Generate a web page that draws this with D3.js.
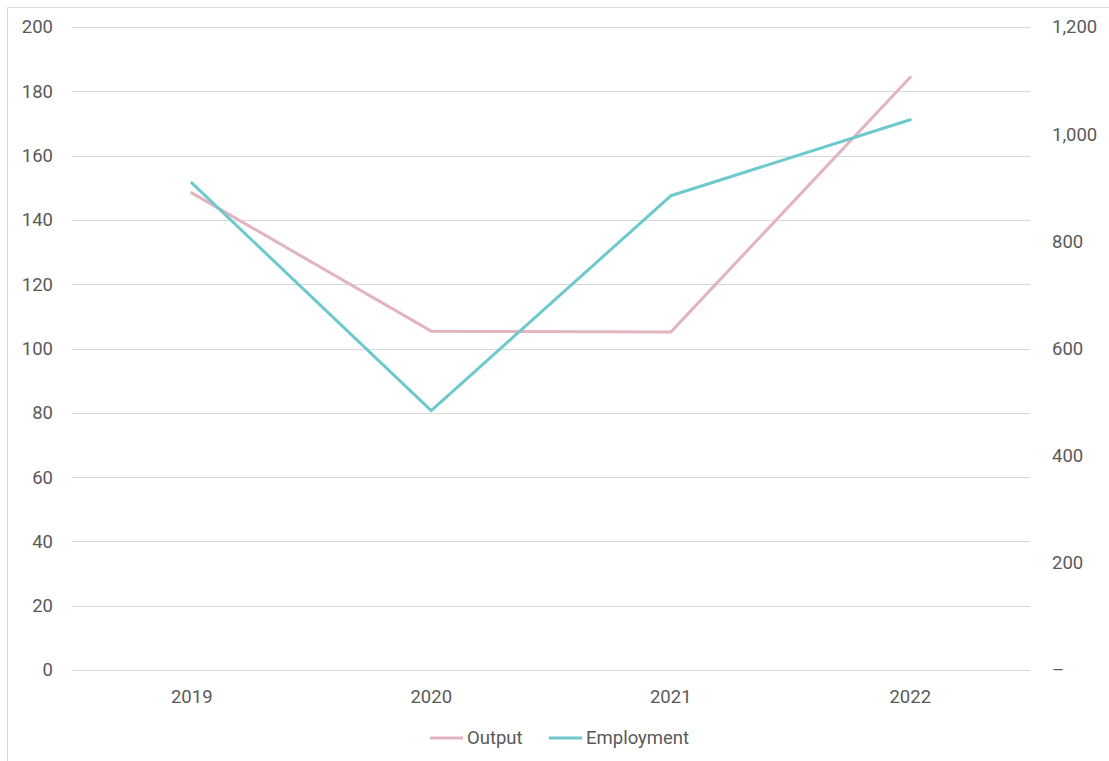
<!DOCTYPE html>
<html><head><meta charset="utf-8">
<script src="https://cdn.jsdelivr.net/npm/d3@7/dist/d3.min.js"></script>
<style>body{margin:0;background:#fff;}svg{display:block;font-family:Roboto,"Noto Sans",sans-serif;}</style>
</head><body><svg id="c" width="1109" height="761"></svg>
<script>
const categories = ["2019","2020","2021","2022"];
const outputValues = [148.4, 105.4, 105.1, 184.4];
const employmentValues = [909, 484, 885, 1027];
const leftTicks = [0,20,40,60,80,100,120,140,160,180,200];
const rightTicks = [0,200,400,600,800,1000,1200];
const seriesNames = ["Output","Employment"];
const seriesColors = ["#e2b4bf","#6ec9cc"];

const svg = d3.select("#c");
const L = 72, R = 1030, T = 27, B = 670;
const textColor = "#595959";
const fs = "18.5px";

// outer border (left & top)
svg.append("path").attr("d","M7.5,761 V7.5 H1109").attr("fill","none").attr("stroke","#d9d9d9").attr("stroke-width",1);

const x = d3.scaleBand().domain(categories).range([L,R]);
const yL = d3.scaleLinear().domain([0,200]).range([B,T]);
const yR = d3.scaleLinear().domain([0,1200]).range([B,T]);

// gridlines
svg.append("g").selectAll("line").data(leftTicks).join("line")
  .attr("x1",L).attr("x2",R).attr("y1",d=>Math.round(yL(d))+0.5).attr("y2",d=>Math.round(yL(d))+0.5)
  .attr("stroke","#d9d9d9").attr("stroke-width",1);

// left axis
const gl = svg.append("g").attr("transform",`translate(${L},0)`)
  .call(d3.axisLeft(yL).tickValues(leftTicks).tickSize(0).tickPadding(19));
gl.select(".domain").remove();
gl.selectAll("text").attr("fill",textColor).style("font-size",fs).style("font-family","Roboto");

// right axis
const gr = svg.append("g").attr("transform",`translate(${R},0)`)
  .call(d3.axisRight(yR).tickValues(rightTicks).tickSize(0).tickPadding(22)
    .tickFormat(d=> d===0 ? "–" : d3.format(",")(d)));
gr.select(".domain").remove();
gr.selectAll("text").attr("fill",textColor).style("font-size",fs).style("font-family","Roboto");

// x axis
const gx = svg.append("g").attr("transform",`translate(0,${B})`)
  .call(d3.axisBottom(x).tickSize(0).tickPadding(20));
gx.select(".domain").remove();
gx.selectAll("text").attr("fill",textColor).style("font-size",fs).style("font-family","Roboto");

const cx = d => x(d) + x.bandwidth()/2;
const lineL = d3.line().x((d,i)=>cx(categories[i])).y(d=>yL(d));
const lineR = d3.line().x((d,i)=>cx(categories[i])).y(d=>yR(d));

svg.append("path").datum(outputValues).attr("d",lineL).attr("fill","none")
  .attr("stroke",seriesColors[0]).attr("stroke-width",3).attr("stroke-linecap","round").attr("stroke-linejoin","round");
svg.append("path").datum(employmentValues).attr("d",lineR).attr("fill","none")
  .attr("stroke",seriesColors[1]).attr("stroke-width",3).attr("stroke-linecap","round").attr("stroke-linejoin","round");

// legend
const leg = svg.append("g");
const legX = [430, 549];
seriesNames.forEach((n,i)=>{
  leg.append("line").attr("x1",legX[i]).attr("x2",legX[i]+33).attr("y1",738).attr("y2",738)
    .attr("stroke",seriesColors[i]).attr("stroke-width",3);
  leg.append("text").attr("x",legX[i]+37).attr("y",738).attr("dy","0.35em")
    .attr("fill",textColor).style("font-size",fs).text(n);
});
</script></body></html>
